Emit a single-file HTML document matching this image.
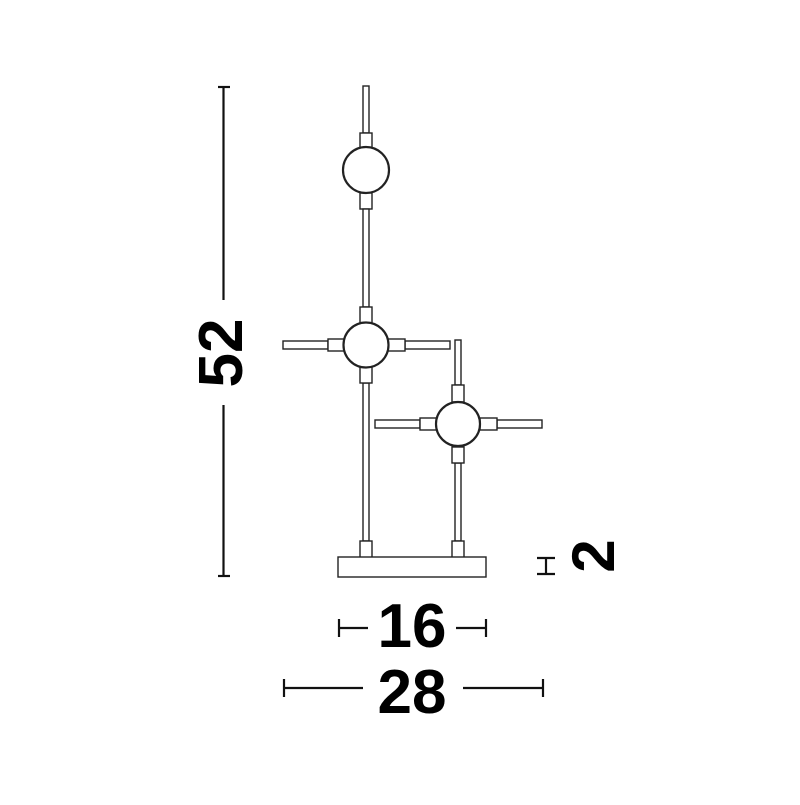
<!DOCTYPE html>
<html><head><meta charset="utf-8"><style>html,body{margin:0;padding:0;background:#fff}</style></head><body>
<svg width="800" height="800" viewBox="0 0 800 800" xmlns="http://www.w3.org/2000/svg">
<g fill="#fff" stroke="#222" stroke-width="1.4">
<!-- main fixture -->
<rect x="363" y="86" width="6" height="47"/>
<rect x="360" y="133" width="12" height="15"/>
<rect x="360" y="193" width="12" height="16"/>
<rect x="363" y="209" width="6" height="98"/>
<rect x="360" y="307" width="12" height="16"/>
<rect x="363" y="383" width="6" height="158"/>
<rect x="360" y="367" width="12" height="16"/>
<rect x="360" y="541" width="12" height="17"/>
<rect x="283" y="341" width="45" height="8"/>
<rect x="328" y="339" width="16" height="12"/>
<rect x="405" y="341" width="45" height="8"/>
<rect x="388" y="339" width="17" height="12"/>
<circle cx="366" cy="170" r="23" stroke-width="2.2"/>
<circle cx="366" cy="345" r="22.5" stroke-width="2.2"/>
<!-- second fixture -->
<rect x="455" y="340" width="6" height="45"/>
<rect x="452" y="385" width="12" height="17"/>
<rect x="455" y="463" width="6" height="78"/>
<rect x="452" y="447" width="12" height="16"/>
<rect x="452" y="541" width="12" height="17"/>
<rect x="375" y="420" width="45" height="8"/>
<rect x="420" y="418" width="17" height="12"/>
<rect x="497" y="420" width="45" height="8"/>
<rect x="480" y="418" width="17" height="12"/>
<circle cx="458" cy="424" r="22" stroke-width="2.2"/>
<!-- base -->
<rect x="338" y="557" width="148" height="20"/>
</g>
<g stroke="#111" stroke-width="2.2" fill="none">
<line x1="223.5" y1="86" x2="223.5" y2="300"/>
<line x1="223.5" y1="405" x2="223.5" y2="577"/>
<line x1="218" y1="87" x2="230" y2="87"/>
<line x1="218" y1="576" x2="230" y2="576"/>
<line x1="546" y1="558" x2="546" y2="574"/>
<line x1="537" y1="558" x2="555" y2="558"/>
<line x1="537" y1="574" x2="555" y2="574"/>
<line x1="339" y1="628" x2="368" y2="628"/>
<line x1="339" y1="619" x2="339" y2="637"/>
<line x1="456" y1="628" x2="486" y2="628"/>
<line x1="486" y1="619" x2="486" y2="637"/>
<line x1="284" y1="688" x2="363" y2="688"/>
<line x1="284" y1="679" x2="284" y2="697"/>
<line x1="463" y1="688" x2="543" y2="688"/>
<line x1="543" y1="679" x2="543" y2="697"/>
</g>
<g font-family="Liberation Sans, sans-serif" font-weight="bold" fill="#000" text-anchor="middle">
<text x="412" y="647" font-size="62">16</text>
<text x="412" y="713" font-size="62">28</text>
<text transform="translate(242,353) rotate(-90)" font-size="62">52</text>
<text transform="translate(614,556) rotate(-90)" font-size="60">2</text>
</g>
</svg>
</body></html>
